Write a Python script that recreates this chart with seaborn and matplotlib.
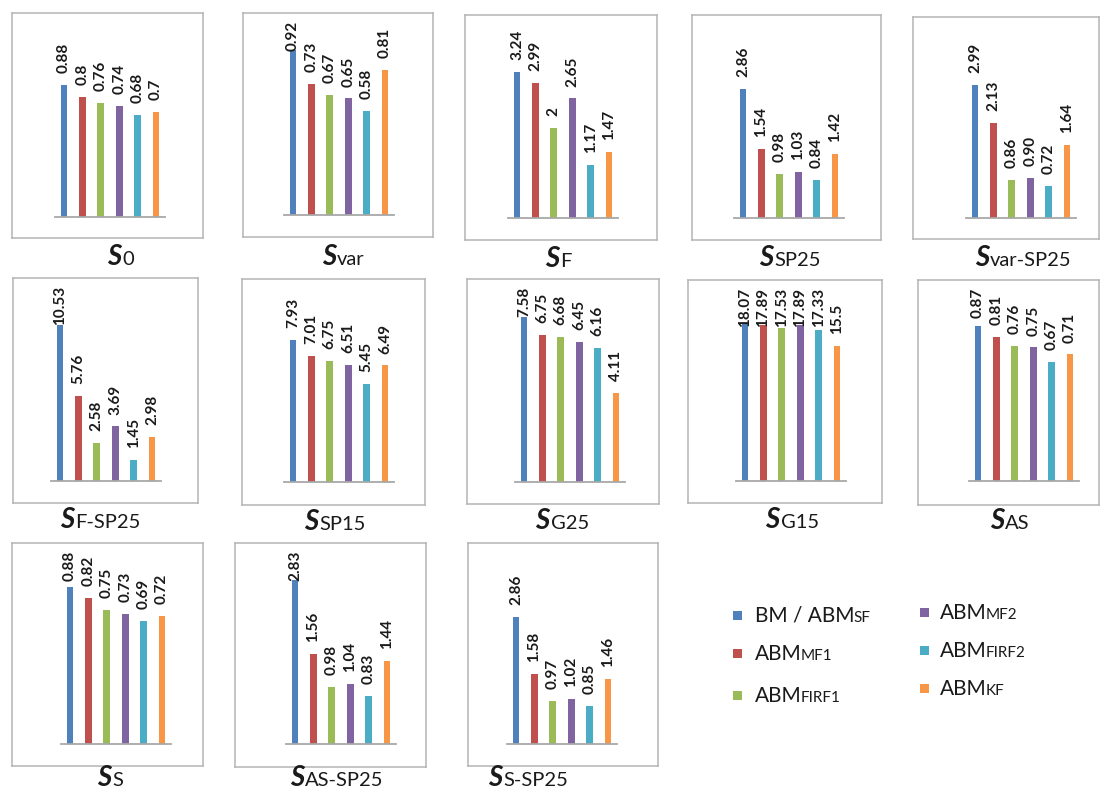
import matplotlib
matplotlib.use("Agg")
import matplotlib.pyplot as plt
import pandas as pd
import seaborn as sns
from matplotlib.patches import Rectangle

plt.rcParams["font.family"] = ["Lato", "DejaVu Sans"]

# ---- data -------------------------------------------------------------
methods = ["SF", "MF1", "FIRF1", "MF2", "FIRF2", "KF"]
legend_main = ["BM / ABM", "ABM", "ABM", "ABM", "ABM", "ABM"]
legend_sub = ["SF", "MF1", "FIRF1", "MF2", "FIRF2", "KF"]
colors = ["#4F81BD", "#C0504D", "#9BBB59", "#8064A2", "#4BACC6", "#F79646"]

panel_subs = ["0", "var", "F", "SP25", "var-SP25",
              "F-SP25", "SP15", "G25", "G15", "AS",
              "S", "AS-SP25", "S-SP25"]

s_0 = ["0.88", "0.8", "0.76", "0.74", "0.68", "0.7"]
s_var = ["0.92", "0.73", "0.67", "0.65", "0.58", "0.81"]
s_f = ["3.24", "2.99", "2", "2.65", "1.17", "1.47"]
s_sp25 = ["2.86", "1.54", "0.98", "1.03", "0.84", "1.42"]
s_var_sp25 = ["2.99", "2.13", "0.86", "0.90", "0.72", "1.64"]
s_f_sp25 = ["10.53", "5.76", "2.58", "3.69", "1.45", "2.98"]
s_sp15 = ["7.93", "7.01", "6.75", "6.51", "5.45", "6.49"]
s_g25 = ["7.58", "6.75", "6.68", "6.45", "6.16", "4.11"]
s_g15 = ["18.07", "17.89", "17.53", "17.89", "17.33", "15.5"]
s_as = ["0.87", "0.81", "0.76", "0.75", "0.67", "0.71"]
s_s = ["0.88", "0.82", "0.75", "0.73", "0.69", "0.72"]
s_as_sp25 = ["2.83", "1.56", "0.98", "1.04", "0.83", "1.44"]
s_s_sp25 = ["2.86", "1.58", "0.97", "1.02", "0.85", "1.46"]

panel_values = [s_0, s_var, s_f, s_sp25, s_var_sp25,
                s_f_sp25, s_sp15, s_g25, s_g15, s_as,
                s_s, s_as_sp25, s_s_sp25]

# value-axis maximum of each small chart
y_max = [1.36, 1.126, 4.50, 4.50, 4.52,
         13.7, 11.3, 9.33, 23.0, 1.128,
         1.127, 3.47, 4.53]

# ---- layout (pixels, origin top-left) ---------------------------------
W, H, DPI = 1101, 790, 100
# frame: left, top, right, bottom ; baseline y ; first bar centre x ;
# caption centre x ; caption baseline y
frames = [
    (12, 13, 203, 238, 217, 64, 121, 265),
    (243, 13, 433, 237, 215, 293, 343, 265),
    (465, 15, 657, 240, 218, 517, 558, 267),
    (692, 15, 881, 240, 218, 743, 790, 266),
    (913, 17, 1099, 239, 218, 975, 1023, 266),
    (13, 278, 198, 503, 481, 60, 100, 528),
    (242, 279, 425, 505, 482, 293, 335, 530),
    (467, 279, 659, 504, 482, 524, 562, 529),
    (688, 280, 882, 503, 481, 745, 792, 528),
    (918, 280, 1099, 505, 481, 978, 1010, 529),
    (12, 543, 203, 766, 744, 70, 110, 786),
    (235, 543, 426, 767, 744, 295, 337, 786),
    (468, 543, 658, 766, 744, 516, 528, 786),
]
BAR_STEP = 18.4
FRAME_COLOR = "#B4B4B4"
TEXT_COLOR = "#1A1A1A"

fig = plt.figure(figsize=(W / DPI, H / DPI), dpi=DPI)
fig.patch.set_facecolor("white")


def fx(px):
    return px / W


def fy(py):
    return (H - py) / H


labels = []
captions = []

for i, (l, t, r, b, base, first, cap_x, cap_y) in enumerate(frames):
    # outer frame
    fr = fig.add_axes([fx(l), fy(b), (r - l) / W, (b - t) / H])
    fr.set_xticks([])
    fr.set_yticks([])
    fr.set_facecolor("white")
    for sp in fr.spines.values():
        sp.set_color(FRAME_COLOR)
        sp.set_linewidth(1.1)

    # plot area with the bars
    left = first - 0.5 * BAR_STEP
    ax = fig.add_axes([fx(left), fy(base), 6 * BAR_STEP / W, (base - t) / H])
    ax.patch.set_alpha(0)
    vals = panel_values[i]
    df = pd.DataFrame({"method": methods, "value": [float(v) for v in vals]})
    sns.barplot(data=df, x="method", y="value", hue="method",
                palette=colors, width=0.38, saturation=1,
                legend=False, ax=ax)
    ax.set_xlim(-0.5, 5.5)
    ax.set_ylim(0, y_max[i])
    ax.set_xlabel("")
    ax.set_ylabel("")
    ax.set_xticks([])
    ax.set_yticks([])
    for name, sp in ax.spines.items():
        sp.set_visible(name == "bottom")
    ax.spines["bottom"].set_color("#A8A8A8")
    ax.spines["bottom"].set_linewidth(1.3)

    for j, v in enumerate(vals):
        ann = ax.annotate(v, xy=(j, float(v)), xytext=(0, 8.5),
                          textcoords="offset points", rotation=90,
                          ha="center", va="bottom", fontsize=11,
                          fontweight="bold", color=TEXT_COLOR,
                          annotation_clip=False)
        labels.append((ann, t))

    # caption: bold italic S followed by its index text
    yb = fy(cap_y)
    t1 = fig.text(0, yb, "S", fontsize=20, fontweight="bold",
                  fontstyle="italic", color=TEXT_COLOR,
                  ha="left", va="baseline")
    t2 = fig.text(0, yb, panel_subs[i], fontsize=14.5, color=TEXT_COLOR,
                  ha="left", va="baseline")
    captions.append((t1, t2, cap_x))

# ---- legend -------------------------------------------------------------
legend_pos = [
    (733, 615, 755), (733, 653, 755), (733, 695, 755),
    (920, 612, 940), (920, 650, 940), (920, 688, 940),
]
legend_texts = []
for k, (sx, sy, tx) in enumerate(legend_pos):
    sq = 9
    fig.patches.append(Rectangle((fx(sx), fy(sy + sq / 2)), sq / W, sq / H,
                                 transform=fig.transFigure, figure=fig,
                                 facecolor=colors[k], edgecolor="none"))
    m = fig.text(fx(tx), fy(sy + 7), legend_main[k], fontsize=15,
                 color=TEXT_COLOR, ha="left", va="baseline")
    s = fig.text(fx(tx), fy(sy + 7), legend_sub[k], fontsize=11,
                 color=TEXT_COLOR, ha="left", va="baseline")
    legend_texts.append((m, s))

# ---- place composite texts and keep labels inside the frames ------------
fig.canvas.draw()
renderer = fig.canvas.get_renderer()

for t1, t2, cx in captions:
    w1 = t1.get_window_extent(renderer).width
    w2 = t2.get_window_extent(renderer).width
    x0 = cx - (w1 + w2 + 1) / 2
    t1.set_x(fx(x0))
    t2.set_x(fx(x0 + w1 + 1))

for m, s in legend_texts:
    w = m.get_window_extent(renderer).width
    s.set_x(m.get_position()[0] + (w - 1) / W)

for ann, top in labels:
    bb = ann.get_window_extent(renderer)
    limit = H - (top + 8)
    if bb.y1 > limit:
        excess_pt = (bb.y1 - limit) * 72 / DPI
        ann.xyann = (0, 8.5 - excess_pt)

fig.savefig("out.png", dpi=DPI, facecolor="white")
